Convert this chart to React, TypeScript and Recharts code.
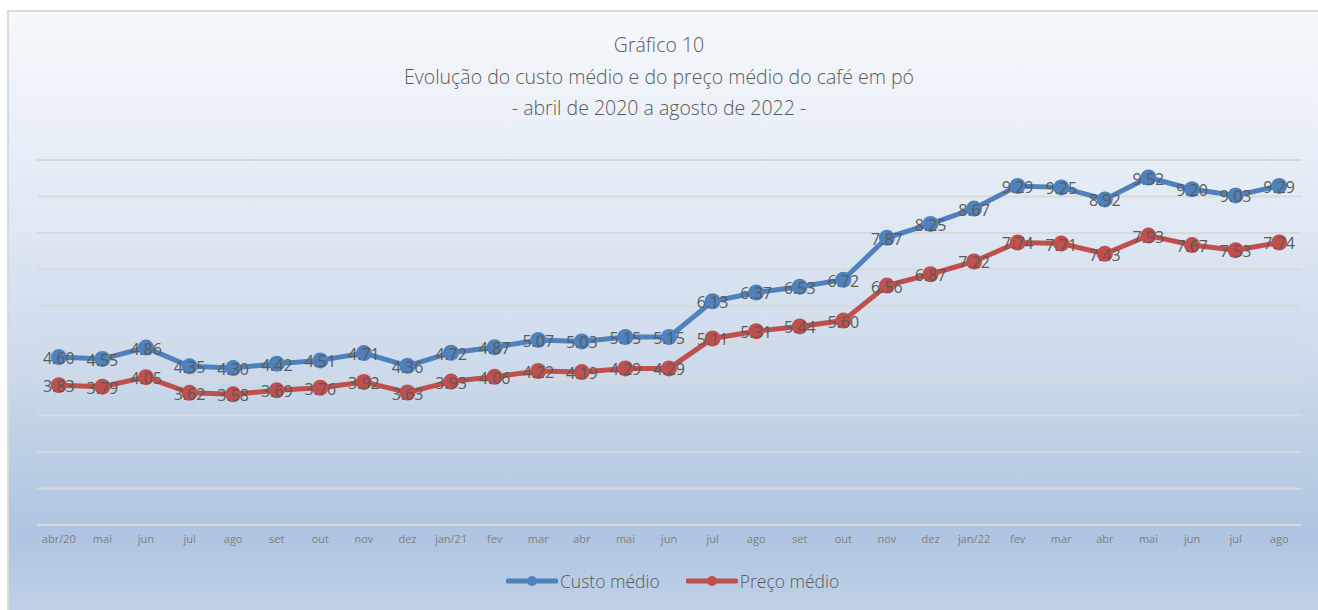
import React from 'react';
import { LineChart, Line, XAxis, YAxis, CartesianGrid, LabelList } from 'recharts';

const months = [
  'abr/20', 'mai', 'jun', 'jul', 'ago', 'set', 'out', 'nov', 'dez',
  'jan/21', 'fev', 'mar', 'abr', 'mai', 'jun', 'jul', 'ago', 'set', 'out', 'nov', 'dez',
  'jan/22', 'fev', 'mar', 'abr', 'mai', 'jun', 'jul', 'ago',
];

const custoMedio = [
  4.60, 4.55, 4.86, 4.35, 4.30, 4.42, 4.51, 4.71, 4.36,
  4.72, 4.87, 5.07, 5.03, 5.15, 5.15, 6.13, 6.37, 6.53, 6.72, 7.87, 8.25,
  8.67, 9.29, 9.25, 8.92, 9.52, 9.20, 9.03, 9.29,
];

const precoMedio = [
  3.83, 3.79, 4.05, 3.62, 3.58, 3.69, 3.76, 3.92, 3.63,
  3.93, 4.06, 4.22, 4.19, 4.29, 4.29, 5.11, 5.31, 5.44, 5.60, 6.56, 6.87,
  7.22, 7.74, 7.71, 7.43, 7.93, 7.67, 7.53, 7.74,
];

const yTicks = [0, 1, 2, 3, 4, 5, 6, 7, 8, 9, 10];

const BLUE = '#4f81bd';
const RED = '#c0504d';
const FONT = '"Open Sans", "Segoe UI", sans-serif';

const data = months.map((m, i) => ({ month: m, custo: custoMedio[i], preco: precoMedio[i] }));

const PointLabel = (props: any) => {
  const { x, y, value } = props;
  return (
    <text x={x} y={y + 1} textAnchor="middle" dominantBaseline="central"
      fontSize={16} fontFamily={FONT} fill="#5a5a5a">
      {Number(value).toFixed(2)}
    </text>
  );
};

const LegendItem = ({ color, label }: { color: string; label: string }) => (
  <div style={{ display: 'flex', alignItems: 'center', marginRight: 26 }}>
    <svg width={52} height={14}>
      <line x1={2} y1={7} x2={50} y2={7} stroke={color} strokeWidth={5} strokeLinecap="round" />
      <circle cx={26} cy={7} r={5} fill={color} />
    </svg>
    <span style={{ marginLeft: 2 }}>{label}</span>
  </div>
);

export default function App() {
  return (
    <div style={{ position: 'absolute', left: 0, top: 0, width: 1318, height: 610, overflow: 'hidden' }}>
      <div style={{
        position: 'absolute', left: 7, top: 10, width: 1330, height: 620,
        border: '2px solid #d9d9d9', boxSizing: 'border-box',
        background: 'linear-gradient(to bottom, #f6f9fc 0%, #e6edf6 25%, #cfdcec 55%, #aec4e0 85%, #c4d4e9 100%)',
      }} />

      <div style={{
        position: 'absolute', left: 0, top: 29, width: 1318, textAlign: 'center',
        fontFamily: FONT, fontWeight: 300, fontSize: 19.5, lineHeight: '31.5px', color: '#595959',
      }}>
        <div>Gráfico 10</div>
        <div>Evolução do custo médio e do preço médio do café em pó</div>
        <div>- abril de 2020 a agosto de 2022 -</div>
      </div>

      <div style={{ position: 'absolute', left: 0, top: 0 }}>
        <LineChart width={1318} height={610} data={data}
          margin={{ top: 160, right: 17, left: 37, bottom: 55 }}>
          <CartesianGrid horizontal vertical={false} stroke="#d9d9d9" strokeWidth={2} />
          <XAxis dataKey="month" interval={0} axisLine={false} tickLine={false} height={30}
            padding={{ left: 21.8, right: 21.8 }}
            tickMargin={4} tick={{ fontSize: 11, fill: '#7f7f7f', fontFamily: FONT }} />
          <YAxis hide domain={[0, 10]} ticks={yTicks} />
          <Line dataKey="custo" type="linear" stroke={BLUE} strokeWidth={5}
            dot={{ r: 8, fill: BLUE, stroke: 'none' }} activeDot={false} isAnimationActive={false}>
            <LabelList dataKey="custo" content={<PointLabel />} />
          </Line>
          <Line dataKey="preco" type="linear" stroke={RED} strokeWidth={5}
            dot={{ r: 8, fill: RED, stroke: 'none' }} activeDot={false} isAnimationActive={false}>
            <LabelList dataKey="preco" content={<PointLabel />} />
          </Line>
        </LineChart>
      </div>

      <div style={{
        position: 'absolute', left: 506, top: 569, display: 'flex',
        fontFamily: FONT, fontWeight: 300, fontSize: 17.5, color: '#595959',
      }}>
        <LegendItem color={BLUE} label="Custo médio" />
        <LegendItem color={RED} label="Preço médio" />
      </div>
    </div>
  );
}
